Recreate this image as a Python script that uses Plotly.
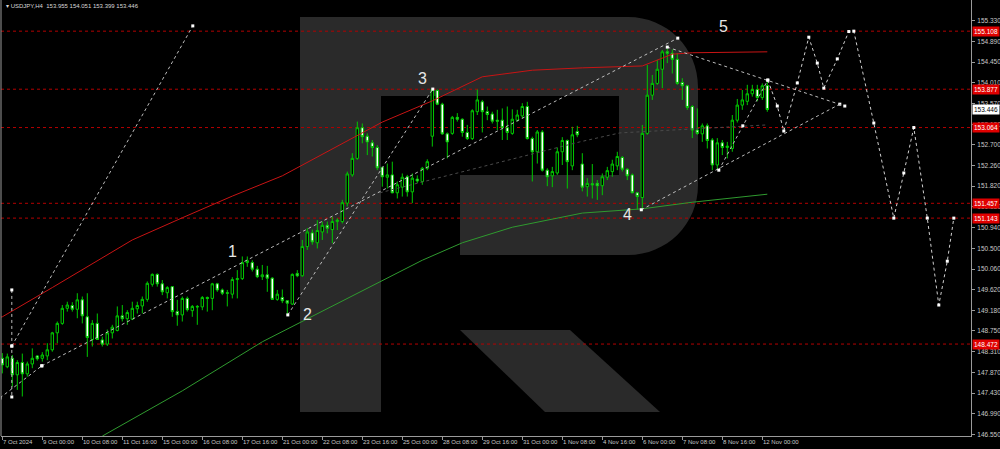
import plotly.graph_objects as go

# ---------------- data ----------------
# H4 bars, index 0 = 7 Oct 2024 16:00
opens = [148.17,147.99,148.17,147.82,148.08,147.84,148.05,148.22,148.17,148.22,
         148.35,148.71,148.91,149.23,149.29,149.21,149.41,149.05,148.57,148.91,
         148.56,148.47,148.71,148.76,149.07,149.01,149.00,149.22,149.28,149.42,
         149.74,149.95,149.75,149.56,149.69,149.16,149.09,149.44,149.18,149.27,
         149.26,149.46,149.44,149.75,149.62,149.56,149.53,149.84,149.86,150.20,
         150.20,150.06,149.90,149.94,149.87,149.42,149.46,149.39,149.32,149.97,
         149.92,150.54,150.83,150.62,150.85,150.99,150.90,151.07,151.07,151.46,
         152.06,152.41,153.06,152.88,152.74,152.64,152.22,152.01,152.06,151.68,
         151.80,152.02,151.70,151.97,151.92,152.20,152.88,153.85,153.56,152.93,
         152.94,153.28,153.24,152.96,152.83,153.40,153.61,153.40,153.35,153.22,
         153.22,153.06,152.94,153.22,153.31,153.51,152.83,152.55,152.97,152.16,
         152.04,152.10,152.55,152.79,152.25,152.98,152.29,151.81,151.87,151.88,
         151.83,152.01,152.13,152.25,152.43,152.18,152.06,151.68,151.58,152.94,
         153.75,154.00,154.30,154.67,154.64,154.51,154.02,153.95,153.51,153.01,
         152.93,153.10,152.80,152.27,152.74,152.64,152.62,153.22,153.54,153.62,
         153.78,153.87,153.70,153.955]
highs = [148.28,148.27,148.24,148.13,148.27,148.10,148.38,148.24,148.30,148.49,
         148.73,148.95,149.30,149.37,149.36,149.55,149.48,149.55,148.98,149.12,
         148.63,148.78,148.88,149.27,149.30,149.19,149.37,149.37,149.48,149.80,
         149.97,149.97,149.83,149.70,149.70,149.41,149.48,149.48,149.30,149.30,
         149.49,149.48,149.77,149.77,149.65,149.62,149.89,150.04,150.33,150.33,
         150.25,150.13,150.15,150.13,149.89,149.62,149.63,149.40,149.97,150.04,
         150.68,150.93,150.90,151.10,151.07,151.07,151.17,151.14,151.53,152.13,
         152.52,153.19,153.15,152.94,152.80,152.69,152.23,152.30,152.34,151.92,
         152.09,152.06,152.09,152.05,152.23,152.39,153.89,153.87,153.59,152.96,
         153.31,153.37,153.26,153.12,153.45,153.87,153.65,153.51,153.40,153.44,
         153.47,153.51,153.45,153.44,153.58,153.61,152.87,153.01,153.01,152.20,
         152.23,152.64,152.86,152.81,153.08,153.10,152.52,151.99,152.29,151.95,
         152.09,152.23,152.38,152.55,152.46,152.20,152.09,151.70,153.12,154.39,
         154.18,154.50,154.71,154.74,154.72,154.64,154.11,153.97,153.54,153.47,
         153.15,153.15,152.84,152.84,152.80,152.76,153.33,153.67,153.86,153.97,
         153.97,153.97,154.00,154.051]
lows = [147.85,147.96,147.57,147.50,147.36,147.78,147.96,148.12,148.10,148.13,
        148.31,148.49,148.88,149.16,149.16,149.02,148.91,148.20,148.42,148.56,
        148.42,148.43,148.59,148.74,148.95,148.88,148.98,149.12,149.12,149.37,
        149.69,149.69,149.51,149.44,149.05,148.86,148.95,149.16,149.05,148.88,
        149.19,149.16,149.19,149.58,149.51,149.27,149.44,149.44,149.83,150.11,
        150.01,149.87,149.83,149.58,149.41,149.39,149.34,149.09,149.30,149.89,
        149.90,150.47,150.58,150.50,150.68,150.82,150.61,150.89,151.03,151.39,
        152.02,152.38,152.73,152.48,152.45,152.16,151.81,151.77,151.67,151.56,
        151.60,151.60,151.46,151.89,151.85,152.16,152.66,153.54,152.91,152.41,
        152.91,153.19,152.87,152.80,152.80,153.33,152.96,153.22,153.15,153.01,
        152.80,152.80,152.91,153.19,153.26,152.81,151.92,152.30,152.13,151.82,
        151.80,152.06,152.27,151.77,152.16,152.86,151.71,151.60,151.56,151.53,
        151.63,151.95,152.02,152.16,152.13,151.95,151.67,151.33,151.30,152.91,
        153.65,153.97,153.90,154.43,154.21,153.97,153.65,153.44,152.84,152.91,
        152.76,152.62,152.16,152.18,152.48,152.41,152.55,153.17,153.44,153.54,
        153.72,153.62,153.65,153.399]
closes = [148.03,148.20,147.82,148.08,147.84,148.05,148.17,148.16,148.24,148.35,
          148.71,148.91,149.23,149.30,149.21,149.41,149.07,148.61,148.91,148.57,
          148.47,148.71,148.83,149.07,149.01,149.14,149.23,149.29,149.42,149.76,
          149.95,149.75,149.58,149.67,149.16,149.09,149.44,149.20,149.27,149.26,
          149.46,149.44,149.75,149.62,149.55,149.55,149.84,149.86,150.20,150.24,
          150.06,149.90,149.94,149.87,149.42,149.53,149.39,149.34,149.95,149.92,
          150.54,150.85,150.64,150.88,150.99,150.93,151.07,151.10,151.47,152.08,
          152.41,153.06,152.87,152.76,152.64,152.21,152.02,152.06,151.68,151.85,
          152.01,151.70,151.99,151.93,152.20,152.34,153.87,153.56,152.93,152.76,
          153.28,153.24,152.96,152.83,153.42,153.65,153.40,153.34,153.20,153.20,
          153.06,152.96,153.24,153.33,153.51,152.83,152.55,152.97,152.16,152.02,
          152.13,152.55,152.79,152.34,152.91,152.91,151.80,151.88,151.85,151.83,
          152.02,152.15,152.29,152.45,152.18,152.04,151.68,151.60,152.94,153.75,
          154.00,154.30,154.67,154.64,154.51,154.00,153.95,153.49,153.01,152.94,
          153.10,152.79,152.27,152.74,152.64,152.67,153.22,153.54,153.65,153.78,
          153.87,153.70,153.95,153.446]
bar_index = list(range(len(opens)))

# moving averages (sampled)
ma_red_idx = [-0.5, 0, 10, 20, 26, 36, 46, 56, 66, 76, 86, 96, 106, 116, 128, 134, 138, 153]
ma_red_val = [149.04, 149.05, 149.67, 150.30, 150.68, 151.15, 151.61, 152.04, 152.61, 153.18,
              153.63, 154.14, 154.28, 154.33, 154.37, 154.62, 154.65, 154.67]
ma_green_idx = [20, 36, 52, 65, 76, 84, 92, 102, 116, 128, 138, 153]
ma_green_val = [146.52, 147.48, 148.52, 149.22, 149.81, 150.25, 150.62, 150.95, 151.25, 151.34, 151.48, 151.65]
ma_gray_idx = [75.5, 115.5, 123.5, 153]
ma_gray_val = [151.68, 152.76, 152.95, 153.12]

# horizontal levels
levels = [155.108, 153.877, 153.064, 151.457, 151.143, 148.472]
last_price = 153.446

# wave / trend lines (bar index, price)
trend_lines = [
    ([1.9, 38.1], [148.43, 155.22]),
    ([1.9, 1.9, 1.9], [149.62, 148.43, 147.35]),
    ([-0.46, 7.9], [147.33, 148.01]),
    ([7.9, 135.1], [148.01, 154.96]),
    ([57.1, 86.1], [149.09, 153.88]),
    ([127.8, 167.5], [151.32, 153.56]),
    ([133.0, 168.5], [154.77, 153.52]),
    ([143.3, 148.1, 153.1], [152.16, 153.10, 154.07]),
]
# forecast path
fc_idx = [153.1, 155, 156.3, 159, 161.3, 163, 164.3, 167, 169.3, 170.3, 174.3, 178.3, 180.3, 182.3, 185, 187.3, 189, 190.3]
fc_val = [154.07, 153.52, 152.99, 154.01, 154.98, 154.43, 153.90, 154.52, 155.10, 155.108, 153.16, 151.143,
          152.10, 153.064, 151.143, 149.30, 150.23, 151.143]

waves = ["1", "2", "3", "4", "5"]
wave_idx = [46.1, 61.1, 84.1, 125.1, 144.2]
wave_val = [150.43, 149.09, 154.11, 151.23, 155.20]

y_ticks = [155.330, 154.890, 154.450, 154.010, 153.570, 153.130, 152.700, 152.260, 151.820, 151.380,
           150.940, 150.500, 150.060, 149.620, 149.180, 148.750, 148.310, 147.870, 147.430, 146.990, 146.550]
x_tick_idx = list(range(0, 153, 8))
x_tick_text = ["7 Oct 2024", "9 Oct 00:00", "10 Oct 08:00", "11 Oct 16:00", "15 Oct 00:00", "16 Oct 08:00",
               "17 Oct 16:00", "21 Oct 00:00", "22 Oct 08:00", "23 Oct 16:00", "25 Oct 00:00", "28 Oct 08:00",
               "29 Oct 16:00", "31 Oct 00:00", "1 Nov 08:00", "4 Nov 16:00", "6 Nov 00:00", "7 Nov 08:00",
               "8 Nov 16:00", "12 Nov 00:00"]
title_text = "USDJPY,H4  153.955 154.051 153.399 153.446"

# ---------------- figure ----------------
FONT = "Liberation Sans, Arial, sans-serif"
W, H = 1000, 449
ML, MR, MT, MB = 1, 29, 0, 13
PW, PH = W - ML - MR, H - MT - MB

def P(x, y):
    return f"{(x - ML) / PW:.5f},{1 - (y - MT) / PH:.5f}"

fig = go.Figure()

fig.add_trace(go.Scatter(x=ma_gray_idx, y=ma_gray_val, mode="lines",
                         line=dict(color="#4a4a4a", width=1, dash="dot"), hoverinfo="skip"))
fig.add_trace(go.Scatter(x=ma_red_idx, y=ma_red_val, mode="lines",
                         line=dict(color="#c81414", width=1), hoverinfo="skip"))
fig.add_trace(go.Scatter(x=ma_green_idx, y=ma_green_val, mode="lines",
                         line=dict(color="#2f9a2f", width=1), hoverinfo="skip"))

for xs, ys in trend_lines:
    fig.add_trace(go.Scatter(x=xs, y=ys, mode="lines+markers",
                             line=dict(color="#bdbdbd", width=1, dash="dot"),
                             marker=dict(color="white", size=3, symbol="square"), hoverinfo="skip"))

fig.add_trace(go.Candlestick(x=bar_index, open=opens, high=highs, low=lows, close=closes,
                             increasing=dict(line=dict(color="#00c800", width=1), fillcolor="black"),
                             decreasing=dict(line=dict(color="#00c800", width=1), fillcolor="white"),
                             whiskerwidth=0, hoverinfo="skip"))

fig.add_trace(go.Scatter(x=fc_idx, y=fc_val, mode="lines+markers",
                         line=dict(color="#d0d0d0", width=1, dash="dot"),
                         marker=dict(color="white", size=3, symbol="square"), hoverinfo="skip"))

shapes = []
wm = "#2a2a2a"
shapes.append(dict(type="path", xref="paper", yref="paper", layer="below", fillcolor=wm, line=dict(width=0),
                   path=f"M{P(300,17)} L{P(628,17)} C{P(667,17)} {P(698,48)} {P(698,87)} "
                        f"L{P(698,185)} C{P(698,224)} {P(667,255)} {P(628,255)} L{P(460,255)} "
                        f"L{P(460,175)} L{P(619,175)} L{P(619,96)} L{P(381,96)} L{P(381,412)} L{P(300,412)} Z"))
shapes.append(dict(type="path", xref="paper", yref="paper", layer="below", fillcolor=wm, line=dict(width=0),
                   path=f"M{P(460,330)} L{P(570,330)} L{P(660,412)} L{P(545,412)} Z"))

for lv in levels:
    shapes.append(dict(type="line", xref="paper", yref="y", x0=0, x1=1, y0=lv, y1=lv,
                       line=dict(color="#b40000", width=1, dash="dot"), layer="below"))
shapes.append(dict(type="line", xref="paper", yref="paper", x0=0, x1=0, y0=0, y1=1,
                   line=dict(color="#9a9a9a", width=1)))

annotations = []
for lv in levels:
    annotations.append(dict(x=1, xref="paper", y=lv, yref="y", xanchor="left", yanchor="middle",
                            xshift=1, text=f"{lv:.3f}", showarrow=False, bgcolor="#e00000",
                            font=dict(family=FONT, size=6.5, color="white"), borderpad=1))
annotations.append(dict(x=1, xref="paper", y=last_price, yref="y", xanchor="left", yanchor="middle",
                        xshift=1, text=f"{last_price:.3f}", showarrow=False, bgcolor="white",
                        font=dict(family=FONT, size=6.5, color="black"), borderpad=1))
for xi, t in zip(x_tick_idx, x_tick_text):
    annotations.append(dict(x=xi, xref="x", y=0, yref="paper", xanchor="left", yanchor="top",
                            xshift=-1, yshift=-1, text=t, showarrow=False,
                            font=dict(family=FONT, size=6, color="#c8c8c8")))
for t, xi, yv in zip(waves, wave_idx, wave_val):
    annotations.append(dict(x=xi, y=yv, xref="x", yref="y", text=t, showarrow=False,
                            font=dict(family=FONT, size=16, color="#e6e6e6")))
annotations.append(dict(x=0, y=1, xref="paper", yref="paper", xanchor="left", yanchor="top",
                        xshift=3, yshift=-1, text="▾ " + title_text, showarrow=False,
                        font=dict(family=FONT, size=6, color="#d8d8d8")))

fig.update_layout(
    width=W, height=H, margin=dict(l=ML, r=MR, t=MT, b=MB),
    paper_bgcolor="black", plot_bgcolor="black", showlegend=False,
    shapes=shapes, annotations=annotations,
    xaxis=dict(range=[-0.26, 193.74], showgrid=False, zeroline=False, rangeslider=dict(visible=False),
               tickvals=x_tick_idx, ticktext=[""] * len(x_tick_idx), ticks="outside", ticklen=3,
               tickcolor="#9a9a9a", showline=True, linecolor="#9a9a9a", linewidth=1, fixedrange=True),
    yaxis=dict(range=[146.522, 155.769], side="right", showgrid=False, zeroline=False,
               tickvals=y_ticks, ticktext=[f"{v:.3f}" for v in y_ticks], ticks="outside", ticklen=3,
               tickcolor="#9a9a9a", showline=True, linecolor="#9a9a9a", linewidth=1,
               tickfont=dict(family=FONT, size=6.5, color="#c8c8c8"), ticklabelstandoff=1),
)
fig.write_html("out.html", config={"displayModeBar": False},
               post_script="document.body.style.margin='0px';document.body.style.background='black';")
